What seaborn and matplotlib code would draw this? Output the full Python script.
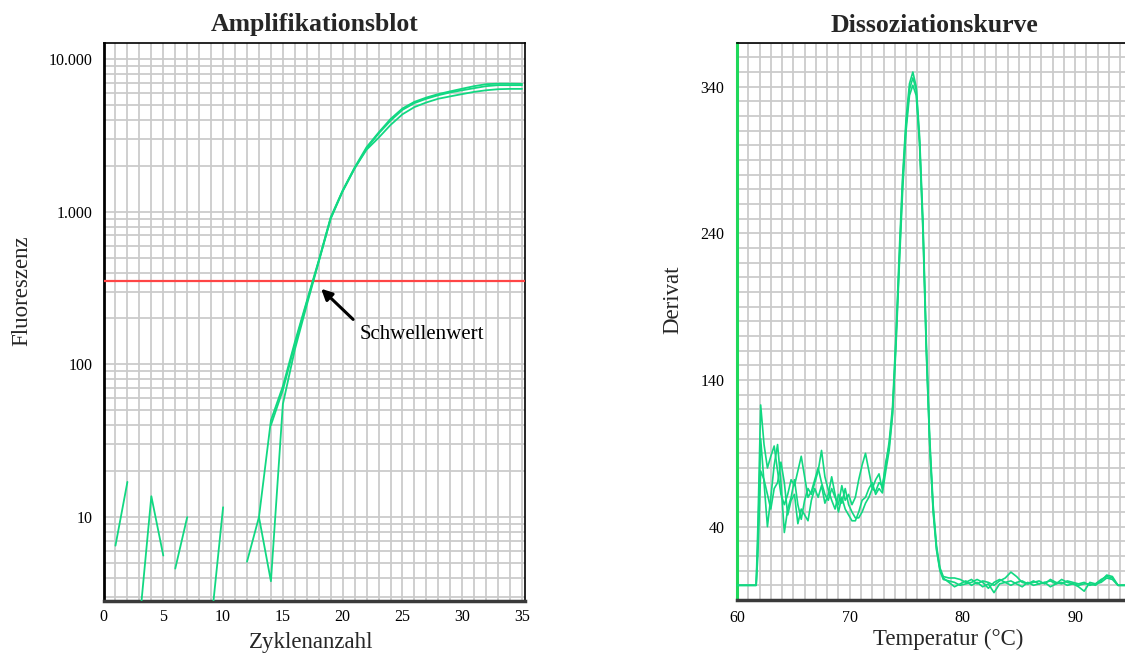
import numpy as np
import pandas as pd
import matplotlib
matplotlib.use("Agg")
import matplotlib.pyplot as plt
from matplotlib.ticker import FixedLocator, MultipleLocator, LogLocator, NullFormatter, FixedFormatter
import seaborn as sns

nan = np.nan

# ---------------- Amplification plot (log scale) ----------------
cycles = list(range(0, 36))
amp_a = [nan, 6.5, 17, nan, nan, nan, 4.6, 10, nan, nan, nan, nan, 5.1, 10,
         43, 72, 140, 260, 480, 920, 1380, 1950, 2650, 3300, 4050, 4750,
         5250, 5600, 5900, 6150, 6400, 6650, 6850, 6900, 6900, 6880]
amp_b = [nan, nan, nan, 2.0, 13.7, 5.6, nan, nan, nan, 2.0, 11.6, nan, nan, 10,
         3.8, 55, 125, 245, 470, 900, 1360, 1920, 2600, 3250, 3950, 4650,
         5150, 5500, 5800, 6050, 6250, 6450, 6650, 6750, 6750, 6750]
amp_c = [nan, nan, nan, nan, nan, nan, nan, nan, nan, nan, nan, nan, nan, nan,
         40, 68, 135, 255, 475, 910, 1370, 1930, 2550, 3050, 3700, 4350,
         4850, 5200, 5500, 5700, 5900, 6100, 6250, 6350, 6380, 6380]
threshold = 350
amp_xticks = [0, 5, 10, 15, 20, 25, 30, 35]
amp_yticks = [10, 100, 1000, 10000]
amp_yticklabels = ["10", "100", "1.000", "10.000"]

# ---------------- Dissociation curve ----------------
temps = [60.0, 61.7, 61.85,
         62.1, 62.4, 62.7, 63.0, 63.3, 63.6, 63.9, 64.2, 64.5, 64.8,
         65.1, 65.4, 65.7, 66.0, 66.3, 66.6, 66.9, 67.2, 67.5, 67.8,
         68.1, 68.4, 68.7, 69.0, 69.3, 69.6, 69.9, 70.2, 70.5, 70.8,
         71.1, 71.4, 71.7, 72.0, 72.3, 72.6, 72.9, 73.2,
         73.5, 73.8, 74.1, 74.4, 74.7, 75.0, 75.3, 75.6, 75.9, 76.2,
         76.5, 76.8, 77.1, 77.4, 77.7, 78.0, 78.3,
         78.8, 79.3, 79.8, 80.3, 80.8, 81.3, 81.8, 82.3, 82.8, 83.3,
         83.8, 84.3, 84.8, 85.3, 85.8, 86.3, 86.8, 87.3, 87.8, 88.3,
         88.8, 89.3, 89.8, 90.3, 90.8, 91.3, 91.8, 92.3, 92.8, 93.3,
         93.8, 95.0]
deriv_a = [0, 0, 40,
           123, 96, 80, 88, 95, 78, 62, 55, 62, 72,
           68, 78, 88, 74, 60, 64, 72, 80, 70, 62,
           58, 66, 60, 55, 68, 58, 62, 55, 60, 72,
           82, 90, 78, 66, 64, 70, 68, 82,
           98, 122, 170, 228, 280, 318, 342, 350, 340, 306,
           248, 165, 100, 55, 27, 12, 6,
           5, 5, 4, 2, 4, 1, 3, 2, 0, 3,
           5, 9, 6, 2, 1, 3, 1, 2, 3, 1,
           4, 2, 1, 0, 1, 1, 0, 3, 7, 6,
           0, 0]
deriv_b = [0, 0, 30,
           100, 70, 40, 60, 82, 96, 70, 36, 52, 60,
           72, 55, 45, 58, 66, 62, 70, 78, 92, 74,
           65, 58, 52, 62, 56, 66, 55, 50, 46, 46,
           50, 56, 60, 66, 72, 76, 65, 84,
           95, 118, 166, 222, 276, 314, 338, 346, 338, 302,
           244, 160, 96, 52, 25, 11, 5,
           2, -1, 1, 3, 0, 2, -1, 1, -5, 1,
           2, 3, 1, -1, 2, 0, 1, 2, -1, 1,
           2, 0, 1, -1, -4, 2, 1, 2, 5, 4,
           0, 0]
deriv_c = [0, 0, 20,
           78, 72, 62, 52, 66, 70, 84, 70, 48, 58,
           62, 42, 52, 48, 44, 58, 66, 60, 68, 56,
           62, 74, 62, 50, 60, 52, 48, 44, 44, 50,
           58, 60, 66, 70, 62, 66, 63, 78,
           92, 116, 162, 218, 270, 310, 334, 341, 334, 300,
           240, 158, 95, 50, 24, 10, 4,
           3, 2, 0, 1, 2, 4, 2, -2, 2, 4,
           2, 0, 2, 3, 1, 2, 3, 1, 4, 2,
           1, 3, 2, 1, 2, 0, 1, 4, 6, 5,
           0, 0]
diss_xticks = [60, 70, 80, 90]
diss_yticks = [40, 140, 240, 340]

# ---------------- build long-form tables ----------------
def split_segments(xs, ys, name):
    rows, seg, gap = [], 0, True
    for x, y in zip(xs, ys):
        if y is None or np.isnan(y):
            gap = True
            continue
        if gap:
            seg += 1
            gap = False
        rows.append({"cycle": x, "fluor": y, "seg": f"{name}{seg}"})
    return rows

amp_rows = []
for nm, ys in (("a", amp_a), ("b", amp_b), ("c", amp_c)):
    amp_rows += split_segments(cycles, ys, nm)
amp_df = pd.DataFrame(amp_rows)

diss_df = pd.concat([
    pd.DataFrame({"temp": temps, "deriv": ys, "well": nm})
    for nm, ys in (("a", deriv_a), ("b", deriv_b), ("c", deriv_c))
], ignore_index=True)

# ---------------- styling ----------------
sns.set_theme(style="white")
plt.rcParams["font.family"] = ["Liberation Serif", "DejaVu Serif"]
plt.rcParams["axes.unicode_minus"] = False

GREEN = "#12d882"
GRID = "#cbcbcb"

fig = plt.figure(figsize=(11.25, 6.55), dpi=100)
ax1 = fig.add_axes([0.092, 0.0824, 0.3747, 0.8519])
ax2 = fig.add_axes([0.6551, 0.084, 0.3507, 0.8508])

# ---- left: amplification ----
ax1.set_yscale("log")
sns.lineplot(data=amp_df, x="cycle", y="fluor", units="seg", estimator=None,
             color=GREEN, lw=1.3, ax=ax1, legend=False, zorder=4)
ax1.set_xlim(0, 35.25)
ax1.set_ylim(2.82, 12740)
ax1.xaxis.set_major_locator(FixedLocator(amp_xticks))
ax1.xaxis.set_minor_locator(MultipleLocator(1))
ax1.yaxis.set_major_locator(FixedLocator(amp_yticks))
ax1.yaxis.set_major_formatter(FixedFormatter(amp_yticklabels))
ax1.yaxis.set_minor_locator(LogLocator(base=10, subs=np.arange(2, 10)))
ax1.yaxis.set_minor_formatter(NullFormatter())
ax1.grid(which="both", color=GRID, lw=1.3)
ax1.set_axisbelow(True)
ax1.axhline(threshold, color="#ff4545", lw=1.6, zorder=3)
ax1.tick_params(axis="x", which="both", length=0, pad=6, labelsize=11.5, colors="black")
ax1.tick_params(axis="y", which="both", direction="in", length=3, width=1,
                pad=8, labelsize=11.5, colors="black")
for sp in ("top", "right"):
    ax1.spines[sp].set_color("black")
    ax1.spines[sp].set_linewidth(1.2)
ax1.spines["left"].set_color("black")
ax1.spines["left"].set_linewidth(2)
ax1.spines["bottom"].set_color("#3a3a3a")
ax1.spines["bottom"].set_linewidth(2.5)

ax1.annotate("Schwellenwert", xy=(18.2, 313), xytext=(21.4, 156),
             fontsize=15, ha="left", va="center", color="black",
             arrowprops=dict(arrowstyle="-|>", color="black", lw=2.2,
                             mutation_scale=16, relpos=(0, 1),
                             shrinkA=3, shrinkB=0), zorder=6)

ax1.set_title("Amplifikationsblot", fontsize=18.5, fontweight="bold", pad=9)
ax1.set_xlabel("Zyklenanzahl", fontsize=16.5)
ax1.set_ylabel("Fluoreszenz", fontsize=16.5)
ax1.xaxis.set_label_coords(0.4935, -0.0556)
ax1.yaxis.set_label_coords(-0.170, 0.557)

# ---- right: dissociation ----
sns.lineplot(data=diss_df, x="temp", y="deriv", units="well", estimator=None,
             color=GREEN, lw=1.2, ax=ax2, legend=False, zorder=4)
ax2.set_xlim(60, 95)
ax2.set_ylim(-10, 370)
ax2.xaxis.set_major_locator(FixedLocator(diss_xticks))
ax2.xaxis.set_minor_locator(MultipleLocator(1))
ax2.yaxis.set_major_locator(FixedLocator(diss_yticks))
ax2.yaxis.set_minor_locator(MultipleLocator(10))
ax2.grid(which="both", color=GRID, lw=1.3)
ax2.set_axisbelow(True)
ax2.tick_params(axis="x", which="both", length=0, pad=7, labelsize=11.5, colors="black")
ax2.tick_params(axis="y", which="both", direction="in", length=3, width=1,
                pad=9, labelsize=11.5, colors="black")
ax2.spines["top"].set_color("black")
ax2.spines["top"].set_linewidth(1.2)
ax2.spines["right"].set_visible(False)
ax2.spines["left"].set_color("#1fd85a")
ax2.spines["left"].set_linewidth(2.2)
ax2.spines["bottom"].set_color("#3a3a3a")
ax2.spines["bottom"].set_linewidth(2.5)

ax2.set_title("Dissoziationskurve", fontsize=18.5, fontweight="bold", pad=8)
ax2.set_xlabel("Temperatur (°C)", fontsize=16.5)
ax2.set_ylabel("Derivat", fontsize=16.5)
ax2.xaxis.set_label_coords(0.535, -0.052)
ax2.yaxis.set_label_coords(-0.137, 0.539)

fig.savefig("out.png", dpi=100)
